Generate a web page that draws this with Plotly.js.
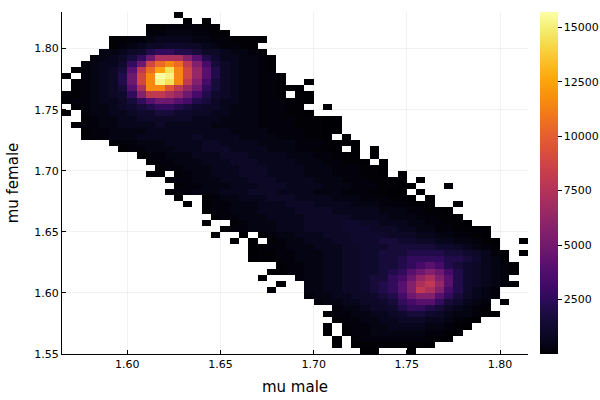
<!DOCTYPE html>
<html>
<head>
<meta charset="utf-8">
<script src="https://cdn.plot.ly/plotly-3.0.1.min.js"></script>
<style>
  html, body { margin: 0; padding: 0; background: #fff; }
  #chart { width: 600px; height: 400px; }
</style>
</head>
<body>
<div id="chart"></div>
<script>
// Histogram bins (mu male along x, mu female along y)
const X_START = 1.565;   // left edge of first bin
const Y_TOP = 1.83;      // top edge of first row
const BIN = 0.005;
const NCOL = 50;
const NROW = 56;

// Count level codes
const LEVEL_CODES = ['0','1','2','3','4','5','6','7','8','9','a','b','c','d','e','f','g','h','i','j','k','l','m','n','o','p'];
const LEVEL_COUNTS = [5,60,200,400,650,900,1200,1600,2100,2700,3300,4000,4800,5600,6400,7200,8000,8800,9600,10500,11500,12500,13500,14500,15200,15700];

// Rows from top (mu female 1.83) to bottom (1.55); "startColumn:codes" segments
const ROWS = [
  "12:1",
  "13:1 15:1",
  "9:11222211",
  "9:223332211",
  "5:11223444433221110",
  "5:1234556655432211",
  "4:334568998875543321",
  "3:234579cfffdb86443321",
  "2:234469chjkjgda7543321",
  "1:123457bgjlnkheb8543321",
  "0:1 2:23458chkpokheb85433221",
  "1:123458chkonkgda75433221 26:0",
  "1:123457bfkkigec97543322110",
  "0:11234569dggfeca865433221 25:10",
  "0:122344579bccba8754433222110",
  "1:1233456789987655433322211 28:0",
  "0:1 2:2334456677665544333222110",
  "2:1233445555554443333222211100",
  "1:12233444454444433333222211100",
  "2:1223333444444444333322221100",
  "2:122333444444544443333222110 30:0",
  "5:122333444455444433332221100",
  "6:122333444555444433322110 31:0 33:0",
  "8:122333444555444433322110 33:0",
  "9:122333444555444433322110 34:0",
  "10:1223334445554444333222110",
  "9:01 12:12334445554444333222110 36:0",
  "11:12233344455544443332221100 38:0",
  "12:12233344455544443332221100 41:0",
  "11:12233344455544443332221100 38:0",
  "12:0 15:12334445554444333222110 39:0",
  "13:0 15:1223334445554444333222110 42:0",
  "15:122333444455554444433322110",
  "16:122333444455555444433322110",
  "15:0 18:12333444555566554443322110",
  "17:12233344455556665554433221100",
  "16:0 19:0 21:1233444555666655544332210",
  "18:0 20:0 22:1233444556667766554433210 49:0",
  "20:012233344455666777776654321",
  "20:0112233344556677788887765421 49:0",
  "20:0112233344556677899998876431",
  "23:122334455667789aba87654321",
  "22:112233445566789bcdca8654321",
  "21:0 25:23344556779acefdb865432",
  "23:0 26:3344556789bdfgeb8654321",
  "22:0 26:3344556789bdgfda86432",
  "26:2334455678acddb975432",
  "27:2334455679abb976432 47:0",
  "29:23345568998754321",
  "28:1223344567765433210",
  "29:1223344555443210",
  "28:0 30:12233444433210",
  "28:0 30:1223333332210",
  "29:0 31:12222222110",
  "29:0 31:011111110",
  "32:00 37:0"
];

const X_TICKS = [1.60, 1.65, 1.70, 1.75, 1.80];
const Y_TICKS = [1.55, 1.60, 1.65, 1.70, 1.75, 1.80];
const CB_TICKS = [2500, 5000, 7500, 10000, 12500, 15000];

const INFERNO = [
  [0.0, '#000004'], [0.05, '#0a0722'], [0.1, '#160b39'], [0.15, '#280b54'],
  [0.2, '#420a68'], [0.25, '#550f6d'], [0.3, '#6a176e'], [0.35, '#7f1f6e'],
  [0.4, '#932667'], [0.45, '#a82e5f'], [0.5, '#bc3754'], [0.55, '#cd4347'],
  [0.6, '#dd513a'], [0.65, '#e8632a'], [0.7, '#f37819'], [0.75, '#f8900c'],
  [0.8, '#fca50a'], [0.85, '#fbbe23'], [0.9, '#f6d746'], [0.95, '#f3ed71'],
  [1.0, '#fcffa4']
];

const codeMap = {};
LEVEL_CODES.forEach((c, i) => { codeMap[c] = LEVEL_COUNTS[i]; });

function parseRow(str) {
  const row = new Array(NCOL).fill(null);
  str.split(' ').forEach(seg => {
    const [s, codes] = seg.split(':');
    const start = parseInt(s, 10);
    for (let i = 0; i < codes.length; i++) {
      const ch = codes[i];
      if (ch !== '.' && start + i < NCOL) row[start + i] = codeMap[ch];
    }
  });
  return row;
}

const x = [];
for (let c = 0; c < NCOL; c++) x.push(X_START + BIN * (c + 0.5));
const y = [], z = [];
for (let r = NROW - 1; r >= 0; r--) {
  y.push(Y_TOP - BIN * (r + 0.5));
  z.push(parseRow(ROWS[r]));
}

const FONT = 'DejaVu Sans, sans-serif';

const trace = {
  type: 'heatmap',
  x: x, y: y, z: z,
  colorscale: INFERNO,
  zmin: 0, zmax: 15700,
  hoverinfo: 'skip',
  colorbar: {
    thickness: 18, thicknessmode: 'pixels',
    len: 1, lenmode: 'fraction',
    x: 1.0258, xanchor: 'left', xpad: 0,
    y: 0.5, yanchor: 'middle', ypad: 0,
    outlinewidth: 0,
    tickmode: 'array', tickvals: CB_TICKS, ticktext: CB_TICKS.map(String),
    ticks: 'outside', ticklen: 4, tickcolor: '#000',
    tickfont: { family: FONT, size: 11, color: '#000' }
  }
};

const layout = {
  width: 600, height: 400,
  margin: { l: 62, r: 72, t: 12, b: 46, autoexpand: false },
  paper_bgcolor: '#fff', plot_bgcolor: '#fff',
  font: { family: FONT, color: '#000' },
  xaxis: {
    range: [1.565, 1.815],
    tickmode: 'array', tickvals: X_TICKS, ticktext: X_TICKS.map(v => v.toFixed(2)),
    ticks: 'inside', ticklen: 4, tickcolor: '#000',
    showline: true, linecolor: '#000', linewidth: 1, mirror: false,
    showgrid: true, gridcolor: 'rgba(0,0,0,0.1)', gridwidth: 0.5,
    zeroline: false,
    tickfont: { family: FONT, size: 11, color: '#000' },
    title: { text: 'mu male', font: { family: FONT, size: 15, color: '#000' }, standoff: 11 }
  },
  yaxis: {
    range: [1.55, 1.83],
    tickmode: 'array', tickvals: Y_TICKS, ticktext: Y_TICKS.map(v => v.toFixed(2)),
    ticks: 'inside', ticklen: 4, tickcolor: '#000',
    showline: true, linecolor: '#000', linewidth: 1, mirror: false,
    showgrid: true, gridcolor: 'rgba(0,0,0,0.1)', gridwidth: 0.5,
    zeroline: false,
    tickfont: { family: FONT, size: 11, color: '#000' },
    title: { text: 'mu female', font: { family: FONT, size: 15, color: '#000' }, standoff: 12 }
  }
};

Plotly.newPlot('chart', [trace], layout, { displayModeBar: false, staticPlot: true });
</script>
</body>
</html>
